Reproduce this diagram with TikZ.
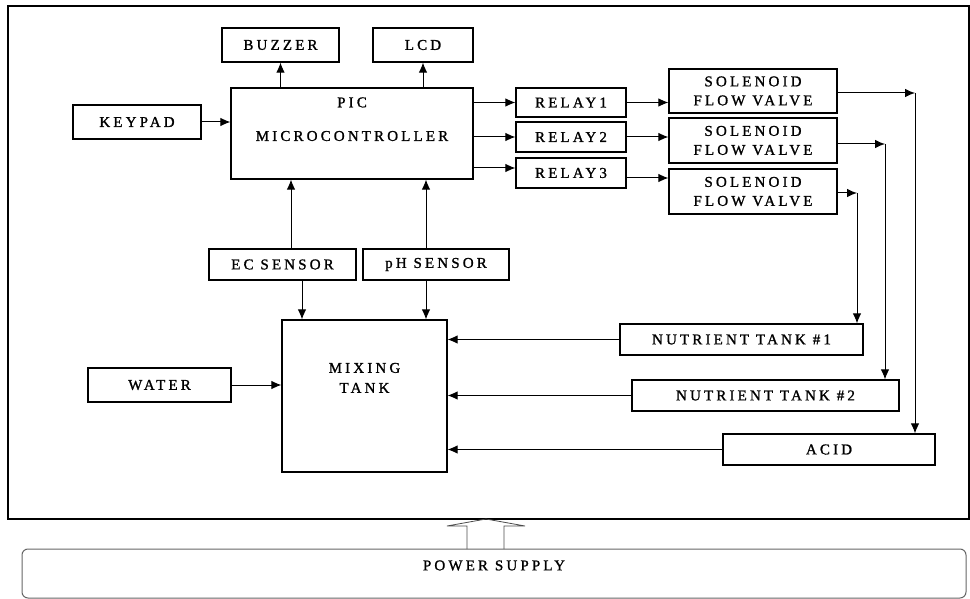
\documentclass[tikz,border=0pt]{standalone}
\usepackage{fontspec}
\setmainfont{Liberation Serif}[LetterSpace=21, FakeBold=1.2]
\usetikzlibrary{arrows.meta}

\begin{document}
\begin{tikzpicture}[x=1pt, y=-1pt, line width=1pt,
    font=\fontsize{15}{18}\selectfont, >={Latex[length=10pt,width=8.5pt]},
    block/.style={draw, line width=1.2pt, inner sep=0pt, align=center}]
  \useasboundingbox (0,0) rectangle (970,599);
  \draw[line width=1.3pt] (8,6) rectangle (969,519);

  % controller side
  \node[block, minimum width=117pt, minimum height=34pt] (buzzer) at (280.5,45) {BUZZER};
  \node[block, minimum width=100pt, minimum height=34pt] (lcd) at (423,45) {LCD};
  \node[block, minimum width=242pt, minimum height=91pt,
    label={[align=center, anchor=north, inner sep=0pt, yshift=-9.5pt]north:PIC\\[15.6pt]MICROCONTROLLER}] (pic) at (352,133.5) {};
  \node[block, minimum width=128pt, minimum height=34pt] (keypad) at (137,122) {KEYPAD};
  \node[block, minimum width=110pt, minimum height=29pt] (relay1) at (571,102.5) {RELAY1};
  \node[block, minimum width=110pt, minimum height=30pt] (relay2) at (571,137) {RELAY2};
  \node[block, minimum width=110pt, minimum height=30pt] (relay3) at (571,173) {RELAY3};
  \node[block, minimum width=168pt, minimum height=44pt] (sol1) at (753,91) {SOLENOID\\[1pt]FLOW VALVE};
  \node[block, minimum width=168pt, minimum height=45pt] (sol2) at (753,140.5) {SOLENOID\\[1pt]FLOW VALVE};
  \node[block, minimum width=168pt, minimum height=45pt] (sol3) at (753,191.5) {SOLENOID\\[1pt]FLOW VALVE};
  \node[block, minimum width=147pt, minimum height=31pt] (ec) at (282.5,264.5) {EC SENSOR};
  \node[block, minimum width=146pt, minimum height=31pt] (ph) at (436,264.5) {pH SENSOR};

  % tank side
  \node[block, minimum width=165pt, minimum height=152pt,
    label={[align=center, anchor=north, inner sep=0pt, yshift=-43pt]north:MIXING\\[2pt]TANK}] (tank) at (364.5,396) {};
  \node[block, minimum width=143pt, minimum height=34pt] (water) at (159.5,385) {WATER};
  \node[block, minimum width=243pt, minimum height=31pt] (nt1) at (741.5,339.5) {NUTRIENT TANK \#1};
  \node[block, minimum width=267pt, minimum height=31pt] (nt2) at (765.5,395.5) {NUTRIENT TANK \#2};
  \node[block, minimum width=212pt, minimum height=31pt] (acid) at (829,449.5) {ACID};

  \node[draw=black!60, line width=1pt, rounded corners=6pt, minimum width=944pt, minimum height=49pt,
    label={[yshift=8pt]center:POWER SUPPLY}] (power) at (494,573.5) {};

  \coordinate (r3in) at ([yshift=5pt]relay3.west);
  \coordinate (r3out) at ([yshift=-5pt]relay3.east);
  \coordinate (k1) at (915,93);
  \coordinate (k2) at (885,144);
  \coordinate (k3) at (857,193);
  \coordinate (ecu) at ([xshift=8.5pt]ec.north);
  \coordinate (ecd) at ([xshift=19.5pt]ec.south);
  \coordinate (phu) at ([xshift=-10pt]ph.north);
  \coordinate (phd) at ([xshift=-10pt]ph.south);

  \draw[->] (buzzer |- pic.north) -- (buzzer.south);
  \draw[->] (lcd |- pic.north) -- (lcd.south);
  \draw[->] (keypad.east) -- (keypad.east -| pic.west);
  \draw[->] (relay1.west -| pic.east) -- (relay1.west);
  \draw[->] (relay2.west -| pic.east) -- (relay2.west);
  \draw[->] (r3in -| pic.east) -- (r3in);
  \draw[->] (relay1.east) -- (relay1.east -| sol1.west);
  \draw[->] (relay2.east) -- (relay2.east -| sol2.west);
  \draw[->] (r3out) -- (r3out -| sol3.west);

  \draw[->] (k1 -| sol1.east) -- (k1);
  \draw[->] (k1) -- (k1 |- acid.north);
  \draw[->] (k2 -| sol2.east) -- (k2);
  \draw[->] (k2) -- (k2 |- nt2.north);
  \draw[->] (k3 -| sol3.east) -- (k3);
  \draw[->] (k3) -- (k3 |- nt1.north);

  \draw[->] (ecu) -- (ecu |- pic.south);
  \draw[->] (phu) -- (phu |- pic.south);
  \draw[->] (ecd) -- (ecd |- tank.north);
  \draw[->] (phd) -- (phd |- tank.north);

  \draw[->] (water.east) -- (water.east -| tank.west);
  \draw[->] (nt1.west) -- (nt1.west -| tank.east);
  \draw[->] (nt2.west) -- (nt2.west -| tank.east);
  \draw[->] (acid.west) -- (acid.west -| tank.east);

  % supply arrow
  \draw[black!70, line width=0.8pt] (467,549) -- (467,526) -- (447,526) -- (486,519)
    -- (525,526) -- (504,526) -- (504,549);
\end{tikzpicture}
\end{document}
